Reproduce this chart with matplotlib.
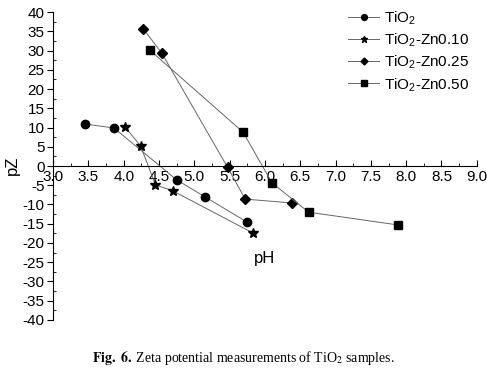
import numpy as np
import matplotlib.pyplot as plt
from matplotlib.ticker import MultipleLocator

# data
ph_tio2 = [3.45, 3.86, 4.75, 5.15, 5.74]
pz_tio2 = [10.9, 9.9, -3.6, -8.0, -14.5]

ph_zn010 = [4.02, 4.24, 4.45, 4.70, 5.83]
pz_zn010 = [10.1, 5.2, -4.9, -6.5, -17.4]

ph_zn025 = [4.28, 4.54, 5.47, 5.72, 6.38]
pz_zn025 = [35.6, 29.3, -0.3, -8.6, -9.6]

ph_zn050 = [4.37, 5.69, 6.10, 6.62, 7.88]
pz_zn050 = [30.1, 8.8, -4.4, -12.0, -15.3]

labels = ['TiO$_2$', 'TiO$_2$-Zn0.10', 'TiO$_2$-Zn0.25', 'TiO$_2$-Zn0.50']

plt.rcParams['font.family'] = ['Liberation Sans', 'DejaVu Sans']
plt.rcParams['mathtext.fontset'] = 'custom'
plt.rcParams['mathtext.rm'] = 'Liberation Sans'
plt.rcParams['axes.unicode_minus'] = False

fig = plt.figure(figsize=(4.87, 3.76), dpi=100)
ax = fig.add_axes([0.109, 0.149, 0.870, 0.819])

series = [(ph_tio2, pz_tio2, 'o', 6), (ph_zn010, pz_zn010, '*', 7),
          (ph_zn025, pz_zn025, 'D', 5), (ph_zn050, pz_zn050, 's', 5.5)]
for (x, y, m, ms), lab in zip(series, labels):
    ax.plot(x, y, color='#666666', lw=0.7, marker=m, ms=ms,
            mfc='black', mec='black', label=lab)

ax.set_xlim(3.0, 9.0)
ax.set_ylim(-40, 40)
ax.spines['top'].set_visible(False)
ax.spines['right'].set_visible(False)
ax.spines['bottom'].set_position(('data', 0))
ax.spines['left'].set_position(('data', 3.0))

ax.xaxis.set_major_locator(MultipleLocator(0.5))
ax.xaxis.set_minor_locator(MultipleLocator(0.25))
ax.yaxis.set_major_locator(MultipleLocator(5))
ax.yaxis.set_minor_locator(MultipleLocator(2.5))
ax.xaxis.set_major_formatter(plt.FormatStrFormatter('%.1f'))
ax.tick_params(axis='x', which='major', direction='in', length=4, labelsize=11, pad=3)
ax.tick_params(axis='x', which='minor', direction='in', length=2)
ax.tick_params(axis='y', which='major', direction='out', length=4, labelsize=11, pad=2)
ax.tick_params(axis='y', which='minor', direction='in', length=2)

ax.text(6.0, -24, 'pH', fontsize=12, ha='center', va='center')
fig.text(0.025, 0.56, 'pZ', fontsize=12, rotation=90, ha='center', va='center')

ax.legend(loc='upper left', frameon=False, fontsize=11, handlelength=2.0,
          handletextpad=0.3, labelspacing=0.3, borderaxespad=0, borderpad=0,
          markerscale=0.7, bbox_to_anchor=(0.697, 1.01))

fig.text(0.5, 0.047, r'$\mathbf{Fig.\ 6.}$ Zeta potential measurements of TiO$_2$ samples.',
         fontsize=10, ha='center', va='center', family='Liberation Serif',
         math_fontfamily='stix')

fig.savefig('out.png', dpi=100)
